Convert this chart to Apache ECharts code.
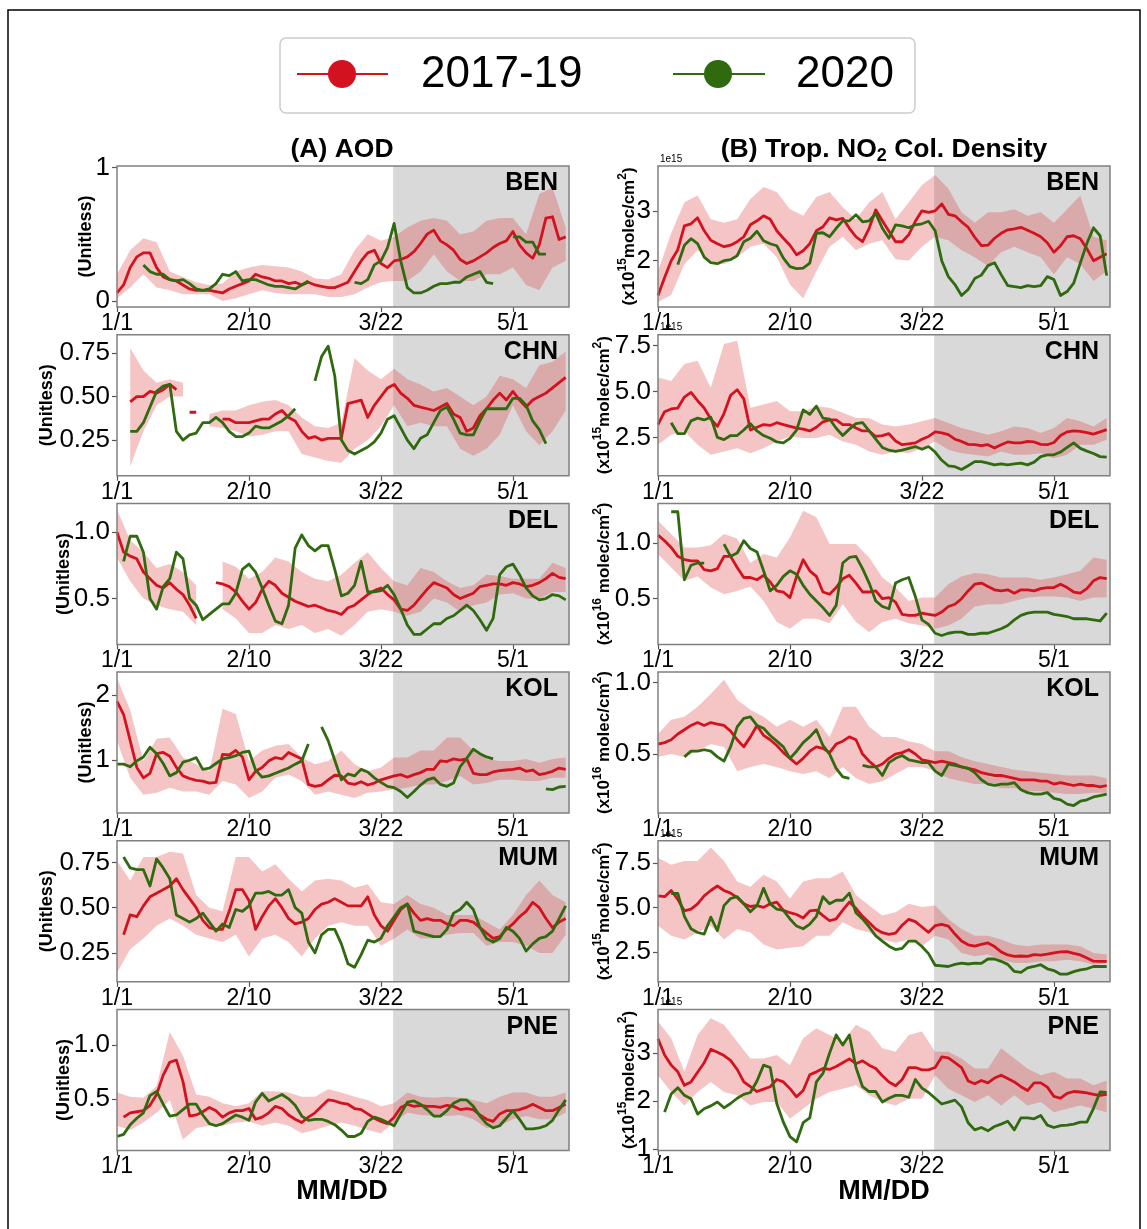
<!DOCTYPE html>
<html>
<head>
<meta charset="utf-8">
<script src="https://cdn.jsdelivr.net/npm/echarts@6/dist/echarts.min.js"></script>
<style>
  html, body { margin: 0; padding: 0; background: #ffffff; }
  #chart { width: 1147px; height: 1229px; }
</style>
</head>
<body>
<div id="chart"></div>
<script>
// ---- time axis: days since 1 Jan ----
const lineDays = Array.from({ length: 69 }, (_, i) => i * 2);   // 2-day sampling of the curves
const bandDays = Array.from({ length: 35 }, (_, i) => i * 4);   // 4-day sampling of the 2017-19 range
const dayMax = 137;
const lockdownDay = 83.7;
const dateTicks = [0, 40, 80, 120];
const dateLabels = ['1/1', '2/10', '3/22', '5/1'];

// ---- (A) AOD ----
const aodBenMean = [0.06,0.12,0.25,0.33,0.36,0.36,0.25,0.18,0.16,0.15, 0.12,0.09,0.08,0.08,0.08,0.07,0.06,0.09,0.11,0.13, 0.15,0.2,0.18,0.17,0.15,0.15,0.13,0.14,0.12,0.14, 0.12,0.11,0.10,0.10,0.12,0.14,0.22,0.30,0.36,0.38, 0.28,0.25,0.30,0.31,0.33,0.37,0.43,0.50,0.53,0.45, 0.42,0.38,0.31,0.28,0.30,0.33,0.36,0.40,0.43,0.45, 0.52,0.42,0.36,0.32,0.42,0.62,0.63,0.46,0.48];
const aodBen2020 = [null,null,null,null,0.27,0.22,0.2,0.2,0.16,0.15, 0.16,0.13,0.09,0.08,0.09,0.13,0.2,0.19,0.22,0.15, 0.16,0.16,0.14,0.12,0.11,0.11,0.1,0.09,0.12,0.15, null,null,null,null,null,null,0.14,0.13,0.16,0.27, 0.3,0.4,0.58,0.3,0.1,0.06,0.06,0.08,0.11,0.13, 0.13,0.14,0.14,0.18,0.2,0.22,0.14,0.13,null,null, 0.48,0.48,0.44,0.44,0.35,0.35,null,null,null];
const aodBenLow = [0.02,0.1,0.2,0.1,0.08,0.05,0.05,0.05,0.0,0.02, 0.05,0.08,0.06,0.05,0.05,0.05,0.03,0.03,0.05,0.1, 0.14,0.15,0.15,0.22,0.35,0.22,0.15,0.15,0.2,0.2, 0.25,0.12,0.08,0.25,0.3];
const aodBenHigh = [0.2,0.38,0.47,0.44,0.22,0.18,0.14,0.12,0.13,0.22, 0.25,0.27,0.26,0.25,0.22,0.17,0.16,0.2,0.38,0.5, 0.45,0.48,0.55,0.6,0.62,0.6,0.5,0.52,0.6,0.62, 0.62,0.5,0.8,0.85,0.55];

const aodChnMean = [null,null,0.47,0.5,0.5,0.53,0.52,0.54,0.57,0.54, null,0.41,0.41,null,null,null,0.37,0.37,0.35,0.35, 0.35,0.36,0.37,0.37,0.4,0.42,0.38,0.36,0.3,0.26, 0.27,0.25,0.26,0.26,0.26,0.46,0.47,0.48,0.38,0.45, 0.5,0.55,0.57,0.52,0.49,0.45,0.44,0.43,0.42,0.44, 0.46,0.40,0.38,0.3,0.32,0.39,0.43,0.48,0.52,0.48, 0.53,0.48,0.44,0.48,0.5,0.52,0.55,0.58,0.61];
const aodChn2020 = [null,null,0.3,0.3,0.35,0.44,0.53,0.56,0.57,0.3, 0.25,0.28,0.29,0.35,0.35,0.38,0.35,0.3,0.27,0.27, 0.29,0.33,0.32,0.32,0.34,0.36,0.39,0.43,null,null, 0.59,0.73,0.79,0.62,0.25,0.19,0.17,0.19,0.21,0.24, 0.29,0.37,0.39,0.32,0.25,0.2,0.26,0.28,0.35,0.42, 0.44,0.37,0.29,0.28,0.28,0.36,0.43,0.43,0.43,0.43, 0.49,0.49,0.45,0.36,0.31,0.23,null,null,null];
const aodChnLow = [null,0.1,0.3,0.45,0.5,0.5,null,0.33,0.32,0.3, 0.27,0.28,0.3,0.3,0.17,0.15,0.13,0.12,0.2,0.25, 0.33,0.45,0.33,0.35,0.33,0.33,0.2,0.16,0.2,0.28, 0.45,0.3,0.22,0.3,0.42];
const aodChnHigh = [null,0.78,0.65,0.58,0.6,0.58,null,0.4,0.42,0.42, 0.45,0.47,0.48,0.45,0.38,0.33,0.32,0.35,0.72,0.65, 0.6,0.66,0.6,0.57,0.53,0.55,0.5,0.45,0.5,0.62, 0.6,0.55,0.68,0.7,0.76];

const aodDelMean = [1.0,0.85,0.82,0.8,0.7,0.65,0.6,0.58,0.62,0.57, 0.53,0.45,0.35,null,null,0.62,0.61,0.59,0.55,0.48, 0.42,0.47,0.57,0.63,0.6,0.54,0.51,0.48,0.46,0.44, 0.45,0.43,0.41,0.4,0.38,0.43,0.45,0.49,0.53,0.56, 0.58,0.53,0.49,0.42,0.41,0.45,0.51,0.57,0.62,0.6, 0.58,0.53,0.5,0.52,0.54,0.59,0.6,0.61,0.61,0.6, 0.62,0.61,0.59,0.6,0.62,0.65,0.69,0.66,0.65];
const aodDel2020 = [null,0.78,0.97,0.97,0.85,0.5,0.42,0.59,0.65,0.85, 0.8,0.5,0.45,0.34,0.38,0.42,0.46,0.46,0.54,0.72, 0.76,0.7,0.58,0.45,0.33,0.31,0.45,0.88,0.98,0.9, 0.86,0.9,0.9,0.72,0.52,0.54,0.6,0.78,0.55,0.55, 0.56,0.6,0.53,0.42,0.3,0.23,0.23,0.27,0.31,0.31, 0.35,0.37,0.41,0.45,0.41,0.34,0.26,0.35,0.68,0.74, 0.76,0.68,0.58,0.52,0.49,0.5,0.53,0.52,0.49];
const aodDelLow = [0.81,0.63,0.5,0.45,0.42,0.4,0.3,null,0.42,0.35, 0.24,0.24,0.3,0.27,0.3,0.24,0.27,0.22,0.3,0.4, 0.42,0.4,0.37,0.4,0.5,0.47,0.4,0.45,0.47,0.53, 0.54,0.5,0.5,0.55,0.55];
const aodDelHigh = [1.17,0.94,0.85,0.73,0.76,0.7,0.6,null,0.78,0.74, 0.65,0.7,0.81,0.78,0.7,0.65,0.63,0.68,0.77,0.85, 0.73,0.63,0.6,0.73,0.7,0.63,0.58,0.6,0.68,0.67, 0.65,0.65,0.65,0.77,0.73];

const aodKolMean = [1.9,1.7,1.3,0.89,0.73,0.8,1.1,1.12,1.06,0.89, 0.76,0.72,0.69,0.68,0.65,0.66,1.09,1.08,1.15,1.05, 0.7,0.83,0.89,0.99,1.04,1.02,1.12,1.07,1.02,0.63, 0.6,0.62,0.7,0.77,0.76,0.65,0.63,0.67,0.62,0.65, 0.7,0.73,0.76,0.78,0.74,0.78,0.81,0.86,0.86,0.99, 0.98,1.02,1.0,1.02,0.8,0.78,0.78,0.82,0.84,0.85, 0.86,0.88,0.83,0.85,0.78,0.8,0.83,0.88,0.86];
const aodKol2020 = [0.94,0.94,0.9,0.99,1.05,1.2,1.1,0.95,0.76,0.81, 0.97,1.0,1.04,0.86,0.88,0.95,1.02,1.04,1.07,1.12, 1.14,0.85,0.74,0.76,0.8,0.84,0.88,0.94,0.99,1.25, null,1.51,1.3,1.0,0.7,0.79,0.76,0.86,0.82,0.73, 0.66,0.6,0.58,0.52,0.43,0.52,0.62,0.7,0.73,0.63, 0.6,0.65,0.9,1.03,1.17,1.1,1.05,1.02,null,null, null,null,null,null,null,0.56,0.55,0.59,0.6];
const aodKolLow = [1.3,0.73,0.47,0.5,0.58,0.52,0.52,0.47,0.68,0.63, 0.42,0.52,0.73,0.78,0.68,0.47,0.52,0.47,0.42,0.5, 0.52,0.55,0.58,0.63,0.63,0.68,0.76,0.63,0.65,0.7, 0.7,0.68,0.68,0.73,0.73];
const aodKolHigh = [2.26,1.77,0.99,1.33,1.35,1.04,0.94,0.83,1.79,1.71, 0.99,1.15,1.22,1.25,1.04,0.94,0.99,1.15,0.94,0.83, 0.89,1.04,1.04,1.15,1.15,1.35,1.35,1.15,1.02,0.99, 0.99,1.02,0.96,1.02,1.04];

const aodMumMean = [null,0.35,0.46,0.45,0.51,0.56,0.58,0.6,0.62,0.66, 0.6,0.55,0.5,0.43,0.39,0.38,0.38,0.48,0.6,0.6, 0.54,0.38,0.45,0.51,0.55,0.5,0.44,0.41,0.42,0.44, 0.49,0.52,0.53,0.55,0.53,0.51,0.51,0.51,0.56,0.46, 0.4,0.37,0.43,0.49,0.52,0.47,0.43,0.44,0.43,0.43, 0.41,0.4,0.43,0.43,0.42,0.39,0.36,0.33,0.34,0.38, 0.41,0.45,0.48,0.53,0.5,0.44,0.39,0.42,0.44];
const aodMum2020 = [null,0.78,0.72,0.71,0.71,0.62,0.77,0.72,0.66,0.46, 0.44,0.42,0.44,0.47,0.42,0.37,0.41,0.39,0.49,0.48, 0.51,0.58,0.58,0.59,0.57,0.57,0.6,0.5,0.47,0.31, 0.25,0.35,0.38,0.38,0.3,0.19,0.17,0.24,0.32,0.31, 0.33,0.4,0.45,0.5,0.52,0.37,0.36,0.35,0.34,0.34, 0.38,0.47,0.49,0.53,0.49,0.39,0.33,0.31,0.33,0.39, 0.37,0.33,0.26,0.3,0.33,0.34,0.37,0.44,0.51];
const aodMumLow = [0.14,0.27,0.33,0.4,0.44,0.4,0.35,0.33,0.31,0.35, 0.23,0.33,0.35,0.31,0.23,0.33,0.4,0.42,0.4,0.4, 0.29,0.33,0.38,0.33,0.33,0.35,0.36,0.36,0.29,0.31, 0.31,0.29,0.25,0.25,0.35];
const aodMumHigh = [0.76,0.65,0.78,0.78,0.81,0.8,0.57,0.5,0.48,0.78, 0.78,0.7,0.74,0.66,0.59,0.65,0.66,0.65,0.61,0.63, 0.53,0.52,0.57,0.52,0.5,0.46,0.46,0.46,0.42,0.38, 0.46,0.57,0.65,0.57,0.53];

const aodPneMean = [null,0.33,0.37,0.38,0.39,0.44,0.54,0.72,0.84,0.86, 0.66,0.34,0.35,0.38,0.42,0.39,0.33,0.37,0.39,0.39, 0.41,0.31,0.33,0.37,0.43,0.41,0.35,0.31,0.28,0.33, 0.37,0.43,0.49,0.48,0.46,0.45,0.41,0.4,0.36,0.32, 0.29,0.27,0.33,0.42,0.45,0.43,0.44,0.43,0.43,0.42, 0.44,0.43,0.4,0.41,0.4,0.35,0.31,0.29,0.36,0.39, 0.39,0.4,0.42,0.45,0.42,0.39,0.39,0.42,0.45];
const aodPne2020 = [0.15,0.17,0.26,0.32,0.37,0.53,0.57,0.45,0.34,0.35, 0.4,0.45,0.45,0.35,0.27,0.25,0.27,0.31,0.35,0.33, 0.3,0.47,0.55,0.48,0.51,0.54,0.5,0.44,0.34,0.3, 0.31,0.31,0.29,0.26,0.21,0.15,0.15,0.18,0.29,0.33, 0.31,0.28,0.25,0.36,0.47,0.48,0.45,0.4,0.34,0.34, 0.39,0.46,0.49,0.49,0.43,0.34,0.27,0.23,0.25,0.32, 0.39,0.31,0.22,0.22,0.23,0.25,0.3,0.4,0.49];
const aodPneLow = [0.25,0.21,0.28,0.37,0.49,0.12,0.23,0.25,0.25,0.28, 0.29,0.25,0.28,0.25,0.18,0.21,0.25,0.28,0.25,0.21, 0.18,0.28,0.37,0.35,0.34,0.34,0.35,0.31,0.23,0.25, 0.31,0.34,0.31,0.31,0.37];
const aodPneHigh = [0.56,0.52,0.51,0.62,1.12,0.9,0.54,0.52,0.46,0.43, 0.46,0.57,0.57,0.56,0.52,0.52,0.59,0.56,0.52,0.49, 0.43,0.46,0.56,0.52,0.51,0.52,0.51,0.49,0.46,0.52, 0.56,0.56,0.52,0.52,0.56];

// ---- (B) Tropospheric NO2 column (BEN, CHN, MUM, PNE in 1e15; DEL, KOL in 1e16 molec/cm2) ----
const no2BenMean = [1.3,1.66,2.0,2.22,2.7,2.74,2.86,2.6,2.41,2.34, 2.28,2.31,2.38,2.48,2.72,2.8,2.9,2.83,2.6,2.45, 2.31,2.12,2.2,2.34,2.6,2.68,2.86,2.82,2.85,2.65, 2.48,2.38,2.65,3.02,2.8,2.59,2.38,2.38,2.52,2.79, 3.0,2.97,3.0,3.14,2.93,2.9,2.78,2.67,2.47,2.3, 2.31,2.45,2.55,2.62,2.64,2.67,2.61,2.55,2.48,2.36, 2.17,2.3,2.48,2.5,2.44,2.24,2.0,2.07,2.14];
const no2Ben2020 = [null,null,null,1.92,2.31,2.44,2.34,2.07,1.96,1.94, 2.0,2.02,2.1,2.38,2.45,2.59,2.4,2.34,2.3,2.05, 1.88,1.84,1.85,1.95,2.55,2.56,2.48,2.65,2.8,2.8, 2.92,2.78,2.8,2.95,2.65,2.45,2.72,2.7,2.66,2.72, 2.74,2.79,2.6,2.0,1.68,1.52,1.3,1.42,1.64,1.71, 1.9,1.96,1.72,1.5,1.48,1.46,1.5,1.48,1.5,1.68, 1.62,1.3,1.38,1.55,1.95,2.35,2.66,2.5,1.7];
const no2BenLow = [1.17,1.31,1.93,2.21,2.0,1.93,2.07,2.28,2.34,2.07, 1.52,1.24,1.79,2.28,2.48,2.21,2.34,2.41,2.03,2.0, 2.28,2.48,2.41,2.21,2.07,1.9,2.17,2.28,2.17,2.07, 1.72,2.07,1.93,1.59,1.79];
const no2BenHigh = [1.79,2.55,3.17,3.31,2.83,2.76,2.83,3.24,3.48,3.38, 3.03,2.9,3.28,3.38,3.07,2.83,3.17,3.38,2.83,3.17, 3.52,3.72,3.45,2.97,2.76,2.97,2.97,3.03,2.9,2.97, 2.76,3.03,3.31,2.48,2.41];

const no2ChnMean = [3.2,3.9,4.05,4.1,4.7,4.95,4.5,4.1,3.5,3.1, 3.8,4.8,5.1,4.6,2.9,3.05,3.2,3.15,3.3,3.2, 3.1,3.0,2.95,2.85,3.05,3.35,3.45,3.45,3.2,3.2, 3.01,2.85,2.85,2.55,2.6,2.7,2.3,2.1,2.15,2.2, 2.4,2.55,2.8,2.75,2.65,2.4,2.28,2.12,2.1,2.05, 2.1,1.92,2.1,2.25,2.2,2.2,2.28,2.25,2.12,2.1, 2.22,2.6,2.8,2.85,2.83,2.76,2.68,2.8,2.92];
const no2Chn2020 = [null,null,3.3,2.7,2.7,3.4,3.55,3.45,3.6,2.5, 2.38,2.6,2.6,2.9,3.25,2.85,2.6,2.45,2.25,2.2, 2.45,2.9,4.0,3.75,4.2,3.55,3.5,3.0,2.6,2.95, 3.25,3.3,2.85,2.4,1.95,1.8,1.73,1.8,1.9,2.0, 1.85,2.0,1.7,1.25,0.95,0.9,0.75,0.95,1.18,1.18, 1.1,1.0,1.05,1.0,1.05,1.09,1.0,1.15,1.45,1.55, 1.55,1.7,1.95,2.2,1.9,1.75,1.62,1.45,1.42];
const no2ChnLow = [2.1,2.65,2.83,2.1,1.55,1.73,1.91,1.64,1.91,2.28, 2.55,2.46,2.46,2.65,2.28,2.1,1.73,1.55,1.73,1.64, 1.91,2.28,1.82,1.64,1.55,1.46,1.73,1.55,1.55,1.64, 1.36,1.55,2.1,2.1,2.37];
const no2ChnHigh = [5.76,5.58,6.5,6.68,5.21,7.59,7.77,4.11,4.29,4.48, 3.93,3.93,4.2,4.11,3.84,3.56,3.56,3.2,3.1,3.2, 3.38,3.56,3.29,3.01,2.83,2.65,2.83,3.1,3.01,2.74, 3.01,3.56,3.38,3.1,3.56];

const no2DelMean = [1.07,1.02,0.96,0.88,0.85,0.84,0.84,0.76,0.75,0.77, 0.88,0.88,0.78,0.69,0.69,0.67,0.71,0.65,0.57,0.56, 0.51,0.7,0.85,0.75,0.7,0.56,0.54,0.6,0.68,0.71, 0.64,0.56,0.56,0.57,0.5,0.51,0.47,0.36,0.35,0.35, 0.37,0.36,0.35,0.38,0.43,0.45,0.5,0.57,0.63,0.64, 0.61,0.58,0.57,0.58,0.55,0.58,0.58,0.57,0.59,0.6, 0.6,0.63,0.6,0.56,0.55,0.59,0.66,0.69,0.68];
const no2Del2020 = [null,null,1.28,1.28,0.67,0.8,0.82,0.82,null,null, 0.99,0.88,0.91,1.02,0.95,0.92,0.75,0.57,0.62,0.7, 0.75,0.72,0.62,0.54,0.48,0.42,0.35,0.44,0.82,0.87, 0.88,0.77,0.64,0.48,0.43,0.41,0.64,0.67,0.69,0.52, 0.31,0.27,0.19,0.17,0.19,0.2,0.2,0.18,0.18,0.19, 0.19,0.21,0.23,0.26,0.31,0.35,0.37,0.38,0.38,0.38, 0.36,0.35,0.34,0.32,0.32,0.32,0.31,0.3,0.37];
const no2DelLow = [0.9,0.78,0.66,0.7,0.6,0.54,0.57,0.61,0.48,0.29, 0.23,0.32,0.32,0.28,0.45,0.29,0.2,0.29,0.32,0.28, 0.26,0.23,0.26,0.32,0.43,0.45,0.45,0.48,0.51,0.52, 0.52,0.51,0.48,0.51,0.51];
const no2DelHigh = [1.2,1.08,0.96,0.96,0.98,1.08,1.04,0.82,0.9,0.87, 1.05,1.29,1.23,0.99,0.99,0.99,0.87,0.69,0.6,0.48, 0.51,0.51,0.63,0.7,0.73,0.72,0.69,0.69,0.69,0.67, 0.69,0.72,0.75,0.87,0.85];

const no2KolMean = [0.57,0.58,0.6,0.64,0.67,0.7,0.72,0.7,0.72,0.71, 0.7,0.66,0.6,0.55,0.62,0.7,0.63,0.6,0.56,0.51, 0.47,0.43,0.47,0.52,0.55,0.54,0.51,0.57,0.59,0.62, 0.6,0.5,0.45,0.41,0.43,0.47,0.5,0.51,0.53,0.5, 0.46,0.45,0.44,0.45,0.44,0.43,0.41,0.4,0.39,0.37, 0.36,0.35,0.35,0.34,0.33,0.32,0.32,0.32,0.31,0.31, 0.29,0.3,0.29,0.28,0.29,0.28,0.28,0.27,0.28];
const no2Kol2020 = [null,null,null,null,0.48,0.52,0.52,0.53,0.52,0.48, 0.45,0.55,0.69,0.75,0.76,0.7,0.68,0.63,0.59,0.55, 0.47,0.52,0.58,0.62,0.67,0.56,0.5,0.4,0.34,0.33, null,0.42,0.41,0.41,0.35,0.44,0.47,0.49,0.46,0.45, 0.44,0.44,0.38,0.35,0.43,0.42,0.41,0.4,0.37,0.32, 0.29,0.28,0.29,0.29,0.3,0.25,0.23,0.22,0.22,0.23, 0.19,0.18,0.15,0.14,0.17,0.18,0.2,0.21,0.22];
const no2KolLow = [0.48,0.5,0.48,0.52,0.57,0.55,0.38,0.41,0.43,0.41, 0.38,0.36,0.38,0.33,0.41,0.33,0.29,0.31,0.36,0.41, 0.41,0.38,0.33,0.31,0.29,0.29,0.26,0.26,0.24,0.24, 0.23,0.22,0.22,0.23,0.23];
const no2KolHigh = [0.64,0.74,0.76,0.83,0.92,1.02,0.88,0.81,0.76,0.69, 0.74,0.69,0.74,0.62,0.83,0.83,0.69,0.62,0.62,0.59, 0.57,0.52,0.52,0.48,0.45,0.43,0.41,0.39,0.38,0.37, 0.36,0.35,0.35,0.35,0.33];

const no2MumMean = [5.65,5.6,5.95,5.45,4.8,4.9,5.2,5.65,5.95,6.2, 5.95,5.8,5.55,5.2,5.05,5.1,5.0,5.2,5.3,4.83, 4.7,4.6,4.4,4.8,4.85,4.54,4.25,4.35,4.85,5.3, 4.95,4.5,4.15,3.78,3.58,3.49,3.55,4.0,4.33,4.2, 3.9,3.6,3.97,4.05,3.95,3.5,3.11,2.9,2.82,2.92, 3.0,2.8,2.5,2.33,2.25,2.27,2.25,2.35,2.32,2.38, 2.45,2.5,2.52,2.42,2.33,2.16,1.98,1.97,1.97];
const no2Mum2020 = [null,null,5.78,5.78,4.5,3.8,3.59,3.5,4.45,3.7, 5.1,5.5,5.6,5.2,4.75,5.1,6.07,5.2,4.9,4.83, 4.35,3.95,3.8,4.06,4.5,5.6,5.2,5.4,5.4,5.8, 4.7,4.35,3.9,3.4,3.1,2.82,2.63,2.7,3.11,3.11, 2.8,2.4,1.75,1.72,1.68,1.8,1.87,1.82,1.87,1.85, 2.1,2.1,1.97,1.8,1.4,1.35,1.6,1.68,1.78,1.55, 1.45,1.25,1.25,1.39,1.49,1.55,1.68,1.68,1.68];
const no2MumLow = [3.97,3.4,3.2,3.59,3.97,3.2,3.78,3.59,2.92,2.63, 2.73,2.82,3.4,3.4,4.16,3.78,3.59,3.2,3.01,3.2, 2.82,3.4,3.2,2.44,2.25,2.35,2.06,1.87,1.87,1.97, 1.97,2.06,1.97,1.78,1.87];
const no2MumHigh = [7.79,7.4,7.6,7.6,8.36,7.6,6.45,6.16,6.83,6.45, 5.5,6.45,6.64,6.64,7.02,5.69,5.11,4.54,4.73,5.21, 5.02,5.11,4.35,3.78,3.4,3.4,3.2,2.92,2.82,2.92, 2.92,2.92,2.82,2.44,2.35];

const no2PneMean = [3.3,2.96,2.75,2.61,2.33,2.4,2.6,2.8,3.08,3.02, 2.95,2.85,2.66,2.4,2.3,2.2,2.25,2.3,2.45,2.4, 2.26,2.09,2.22,2.55,2.61,2.68,2.66,2.72,2.8,2.88, 2.78,2.84,2.75,2.68,2.53,2.4,2.32,2.45,2.7,2.7, 2.65,2.65,2.7,2.92,2.9,2.8,2.7,2.42,2.36,2.43, 2.38,2.48,2.54,2.47,2.4,2.3,2.22,2.38,2.38,2.29, 2.1,2.06,2.16,2.2,2.19,2.17,2.14,2.12,2.14];
const no2Pne2020 = [null,1.77,2.15,2.28,2.12,2.05,1.73,1.84,1.9,1.98, 1.86,1.95,2.06,2.14,2.18,2.42,2.75,2.7,1.95,1.56, 1.26,1.15,1.55,1.65,2.4,2.58,3.0,3.38,3.17,3.38, 2.7,2.3,2.2,2.2,1.98,2.06,2.12,2.12,2.08,2.45, 2.27,2.18,2.06,1.94,1.98,2.02,1.88,1.55,1.4,1.45, 1.38,1.47,1.52,1.58,1.4,1.65,1.65,1.63,1.7,1.5, 1.45,1.49,1.5,1.52,1.56,1.56,1.85,2.19,2.18];
const no2PneLow = [2.54,2.19,1.91,2.19,2.4,2.19,2.12,1.91,1.98,1.98, 1.63,1.84,2.05,2.19,2.26,2.33,2.12,1.98,1.91,2.05, 2.05,2.54,2.26,2.12,1.98,2.12,1.91,2.12,1.91,1.98, 1.77,1.84,1.91,1.84,1.77];
const no2PneHigh = [3.66,3.31,2.61,3.38,3.73,3.59,3.24,2.89,2.89,2.96, 2.75,3.31,3.52,3.38,3.24,3.59,3.45,3.1,3.03,3.38, 3.45,3.03,3.03,2.89,2.68,2.68,3.1,2.89,2.68,2.54, 2.61,2.47,2.47,2.33,2.43];

// ---- panel definitions: column 0 = AOD, column 1 = NO2 ----
const unitNo2_15 = '{p|(x10}{sup|15}{p|molec/cm}{sup|2}{p|)}';
const unitNo2_16 = '{p|(x10}{sup|16}{p| molec/cm}{sup|2}{p|)}';
const panels = [
  { col: 0, row: 0, city: 'BEN', mean: aodBenMean, cur: aodBen2020, lo: aodBenLow, hi: aodBenHigh, min: -0.045, max: 1.01, ticks: [0, 1], dec: 0, unit: '{u|(Unitless)}', nameX: 84 },
  { col: 0, row: 1, city: 'CHN', mean: aodChnMean, cur: aodChn2020, lo: aodChnLow, hi: aodChnHigh, min: 0.045, max: 0.856, ticks: [0.25, 0.5, 0.75], dec: 2, unit: '{u|(Unitless)}', nameX: 45 },
  { col: 0, row: 2, city: 'DEL', mean: aodDelMean, cur: aodDel2020, lo: aodDelLow, hi: aodDelHigh, min: 0.154, max: 1.218, ticks: [0.5, 1.0], dec: 1, unit: '{u|(Unitless)}', nameX: 62 },
  { col: 0, row: 3, city: 'KOL', mean: aodKolMean, cur: aodKol2020, lo: aodKolLow, hi: aodKolHigh, min: 0.19, max: 2.35, ticks: [1, 2], dec: 0, unit: '{u|(Unitless)}', nameX: 84 },
  { col: 0, row: 4, city: 'MUM', mean: aodMumMean, cur: aodMum2020, lo: aodMumLow, hi: aodMumHigh, min: 0.09, max: 0.87, ticks: [0.25, 0.5, 0.75], dec: 2, unit: '{u|(Unitless)}', nameX: 45 },
  { col: 0, row: 5, city: 'PNE', mean: aodPneMean, cur: aodPne2020, lo: aodPneLow, hi: aodPneHigh, min: 0.02, max: 1.33, ticks: [0.5, 1.0], dec: 1, unit: '{u|(Unitless)}', nameX: 62 },
  { col: 1, row: 0, city: 'BEN', mean: no2BenMean, cur: no2Ben2020, lo: no2BenLow, hi: no2BenHigh, min: 1.07, max: 3.9, ticks: [2, 3], dec: 0, unit: unitNo2_15, nameX: 627, offset: true },
  { col: 1, row: 1, city: 'CHN', mean: no2ChnMean, cur: no2Chn2020, lo: no2ChnLow, hi: no2ChnHigh, min: 0.41, max: 8.1, ticks: [2.5, 5.0, 7.5], dec: 1, unit: unitNo2_15, nameX: 602, offset: true },
  { col: 1, row: 2, city: 'DEL', mean: no2DelMean, cur: no2Del2020, lo: no2DelLow, hi: no2DelHigh, min: 0.09, max: 1.355, ticks: [0.5, 1.0], dec: 1, unit: unitNo2_16, nameX: 602 },
  { col: 1, row: 3, city: 'KOL', mean: no2KolMean, cur: no2Kol2020, lo: no2KolLow, hi: no2KolHigh, min: 0.087, max: 1.073, ticks: [0.5, 1.0], dec: 1, unit: unitNo2_16, nameX: 602 },
  { col: 1, row: 4, city: 'MUM', mean: no2MumMean, cur: no2Mum2020, lo: no2MumLow, hi: no2MumHigh, min: 0.82, max: 8.74, ticks: [2.5, 5.0, 7.5], dec: 1, unit: unitNo2_15, nameX: 602, offset: true },
  { col: 1, row: 5, city: 'PNE', mean: no2PneMean, cur: no2Pne2020, lo: no2PneLow, hi: no2PneHigh, min: 0.97, max: 3.91, ticks: [1, 2, 3], dec: 0, unit: unitNo2_15, nameX: 627, offset: true }
];

// ---- layout and style ----
const FONT = '"Liberation Sans", Arial, Helvetica, sans-serif';
const RED = '#d3121f';
const GREEN = '#2f6a0f';
const BAND_FILL = 'rgba(222, 62, 62, 0.30)';
const SHADE_FILL = '#d9d9d9';
const FRAME = '#808080';
const COL_LEFT = [117, 658];
const PLOT_W = 452;
const PLOT_H = 141;
const TOP0 = 166;
const ROW_STEP = 168.7;

const grids = [], xAxes = [], yAxes = [], series = [], graphics = [];

panels.forEach((p, i) => {
  const left = COL_LEFT[p.col];
  const top = TOP0 + p.row * ROW_STEP;
  grids.push({ left: left, top: top, width: PLOT_W, height: PLOT_H, show: false });

  xAxes.push({
    gridIndex: i, type: 'value', min: 0, max: dayMax,
    splitLine: { show: false }, axisLine: { show: false, onZero: false },
    axisTick: { show: true, length: 5, lineStyle: { color: '#555', width: 1.2 }, customValues: dateTicks },
    axisLabel: {
      customValues: dateTicks, margin: 5, color: '#000', fontFamily: FONT, fontSize: 23,
      formatter: v => dateLabels[dateTicks.indexOf(v)]
    }
  });

  yAxes.push({
    gridIndex: i, type: 'value', min: p.min, max: p.max,
    splitLine: { show: false }, axisLine: { show: false, onZero: false },
    axisTick: { show: true, length: 5, lineStyle: { color: '#555', width: 1.2 }, customValues: p.ticks },
    axisLabel: {
      customValues: p.ticks, margin: 7, color: '#000', fontFamily: FONT, fontSize: 26,
      formatter: v => v.toFixed(p.dec)
    }
  });

  // lockdown period shading
  series.push({
    type: 'custom', xAxisIndex: i, yAxisIndex: i, silent: true, z: 1, clip: true,
    data: [[0, p.min]],
    renderItem: (params, api) => {
      const a = api.coord([lockdownDay, p.max]);
      const b = api.coord([dayMax, p.min]);
      return { type: 'rect', shape: { x: a[0], y: a[1], width: b[0] - a[0], height: b[1] - a[1] }, style: { fill: SHADE_FILL } };
    }
  });

  // 2017-19 min-max range
  series.push({
    type: 'custom', xAxisIndex: i, yAxisIndex: i, silent: true, z: 2, clip: true,
    data: [[0, p.min]],
    renderItem: (params, api) => {
      const children = [];
      let seg = [];
      const flush = () => {
        if (seg.length > 1) {
          const upper = seg.map(s => api.coord([s[0], s[2]]));
          const lower = seg.slice().reverse().map(s => api.coord([s[0], s[1]]));
          children.push({ type: 'polygon', shape: { points: upper.concat(lower) }, style: { fill: BAND_FILL } });
        }
        seg = [];
      };
      bandDays.forEach((d, k) => {
        if (p.lo[k] == null || p.hi[k] == null) flush();
        else seg.push([d, p.lo[k], p.hi[k]]);
      });
      flush();
      return { type: 'group', children: children };
    }
  });

  const lineOf = (vals, color, z) => ({
    type: 'line', xAxisIndex: i, yAxisIndex: i, silent: true, z: z,
    symbol: 'none', showSymbol: false, connectNulls: false,
    lineStyle: { color: color, width: 2.8, join: 'round' },
    data: lineDays.map((d, k) => [d, vals[k]])
  });
  series.push(lineOf(p.mean, RED, 3));
  series.push(lineOf(p.cur, GREEN, 4));

  // plot frame
  graphics.push({ type: 'rect', z: 50, silent: true, shape: { x: left, y: top, width: PLOT_W, height: PLOT_H },
    style: { fill: null, stroke: FRAME, lineWidth: 1.5 } });
  // city tag
  graphics.push({ type: 'text', z: 51, silent: true, x: left + PLOT_W - 11, y: top + 5,
    style: { text: p.city, fill: '#000', font: 'bold 25px ' + FONT, textAlign: 'right', textVerticalAlign: 'top' } });
  // y axis title
  graphics.push({ type: 'text', z: 51, silent: true, x: p.nameX, y: top + PLOT_H / 2, rotation: Math.PI / 2,
    style: { text: p.unit, textAlign: 'center', textVerticalAlign: 'middle',
      rich: {
        u: { fontFamily: FONT, fontWeight: 'bold', fontSize: 18, fill: '#000', lineHeight: 22, verticalAlign: 'bottom' },
        p: { fontFamily: FONT, fontWeight: 'bold', fontSize: 17, fill: '#000', lineHeight: 21, verticalAlign: 'bottom' },
        sup: { fontFamily: FONT, fontWeight: 'bold', fontSize: 12, fill: '#000', lineHeight: 21, verticalAlign: 'top' }
      } } });
  if (p.offset) {
    graphics.push({ type: 'text', z: 51, silent: true, x: left + 2, y: top - 2,
      style: { text: '1e15', fill: '#000', font: '10px ' + FONT, textAlign: 'left', textVerticalAlign: 'bottom' } });
  }
});

// column titles and x axis titles
graphics.push({ type: 'text', silent: true, x: 342, y: 150,
  style: { text: '(A) AOD', fill: '#000', font: 'bold 26.5px ' + FONT, textAlign: 'center', textVerticalAlign: 'middle' } });
graphics.push({ type: 'text', silent: true, x: 884, y: 150,
  style: { text: '{b|(B) Trop. NO}{s|2}{b| Col. Density}', textAlign: 'center', textVerticalAlign: 'middle',
    rich: {
      b: { fontFamily: FONT, fontWeight: 'bold', fontSize: 26.5, fill: '#000', lineHeight: 30, verticalAlign: 'middle' },
      s: { fontFamily: FONT, fontWeight: 'bold', fontSize: 18, fill: '#000', lineHeight: 18, verticalAlign: 'bottom' }
    } } });
[342, 884].forEach(cx => graphics.push({ type: 'text', silent: true, x: cx, y: 1192,
  style: { text: 'MM/DD', fill: '#000', font: 'bold 27px ' + FONT, textAlign: 'center', textVerticalAlign: 'middle' } }));

// legend box
graphics.push({ type: 'rect', silent: true, z: 60, shape: { x: 280, y: 38, width: 635, height: 75, r: 6 },
  style: { fill: '#fff', stroke: '#cccccc', lineWidth: 1.5 } });
[
  { name: '2017-19', color: RED, x0: 297, x1: 388, cx: 342, tx: 421 },
  { name: '2020', color: GREEN, x0: 673, x1: 765, cx: 718, tx: 796 }
].forEach(it => {
  graphics.push({ type: 'line', silent: true, z: 61, shape: { x1: it.x0, y1: 74, x2: it.x1, y2: 74 },
    style: { stroke: it.color, lineWidth: 2.2 } });
  graphics.push({ type: 'circle', silent: true, z: 62, shape: { cx: it.cx, cy: 74, r: 14 },
    style: { fill: it.color } });
  graphics.push({ type: 'text', silent: true, z: 62, x: it.tx, y: 75,
    style: { text: it.name, fill: '#000', font: '44px ' + FONT, textAlign: 'left', textVerticalAlign: 'middle' } });
});

// figure border
graphics.push({ type: 'rect', silent: true, z: 0, shape: { x: 8, y: 10, width: 1132, height: 1240 },
  style: { fill: null, stroke: '#000', lineWidth: 1.5 } });

const chart = echarts.init(document.getElementById('chart'), null, { renderer: 'canvas' });
chart.setOption({
  animation: false,
  backgroundColor: '#ffffff',
  grid: grids,
  xAxis: xAxes,
  yAxis: yAxes,
  series: series,
  graphic: { elements: graphics }
});
</script>
</body>
</html>
